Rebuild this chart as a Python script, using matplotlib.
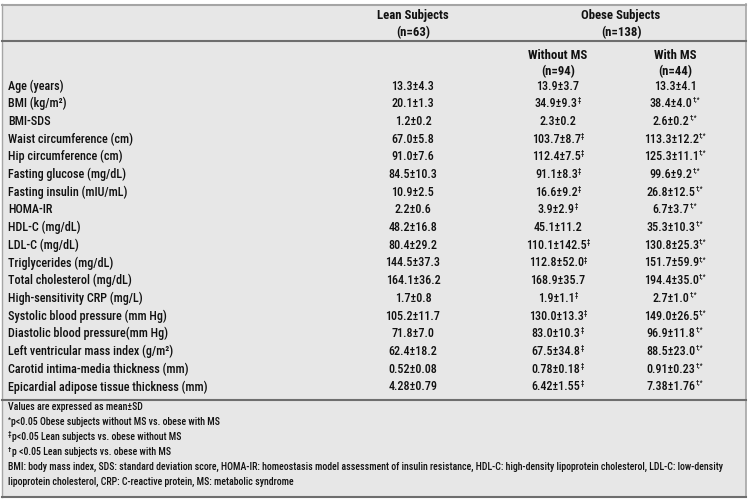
import matplotlib
matplotlib.use("Agg")
import matplotlib.pyplot as plt
from matplotlib import font_manager as fm

# ---------------- data ----------------
variables = [
    "Age (years)", "BMI (kg/m²)", "BMI-SDS", "Waist circumference (cm)",
    "Hip circumference (cm)", "Fasting glucose (mg/dL)", "Fasting insulin (mIU/mL)",
    "HOMA-IR", "HDL-C (mg/dL)", "LDL-C (mg/dL)", "Triglycerides (mg/dL)",
    "Total cholesterol (mg/dL)", "High-sensitivity CRP (mg/L)",
    "Systolic blood pressure (mm Hg)", "Diastolic blood pressure(mm Hg)",
    "Left ventricular mass index (g/m²)", "Carotid intima-media thickness (mm)",
    "Epicardial adipose tissue thickness (mm)",
]
lean = ["13.3±4.3", "20.1±1.3", "1.2±0.2", "67.0±5.8", "91.0±7.6", "84.5±10.3",
        "10.9±2.5", "2.2±0.6", "48.2±16.8", "80.4±29.2", "144.5±37.3", "164.1±36.2",
        "1.7±0.8", "105.2±11.7", "71.8±7.0", "62.4±18.2", "0.52±0.08", "4.28±0.79"]
without_ms = ["13.9±3.7", "34.9±9.3", "2.3±0.2", "103.7±8.7", "112.4±7.5", "91.1±8.3",
              "16.6±9.2", "3.9±2.9", "45.1±11.2", "110.1±142.5", "112.8±52.0",
              "168.9±35.7", "1.9±1.1", "130.0±13.3", "83.0±10.3", "67.5±34.8",
              "0.78±0.18", "6.42±1.55"]
without_ms_sig = ["", "‡", "", "‡", "‡", "‡", "‡", "‡", "", "‡", "‡", "", "‡", "‡",
                  "‡", "‡", "‡", "‡"]
with_ms = ["13.3±4.1", "38.4±4.0", "2.6±0.2", "113.3±12.2", "125.3±11.1", "99.6±9.2",
           "26.8±12.5", "6.7±3.7", "35.3±10.3", "130.8±25.3", "151.7±59.9",
           "194.4±35.0", "2.7±1.0", "149.0±26.5", "96.9±11.8", "88.5±23.0",
           "0.91±0.23", "7.38±1.76"]
with_ms_sig = [""] + ["†,*"] * 17

header_top = [("Lean Subjects", "(n=63)"), ("Obese Subjects", "(n=138)")]
header_sub = [("Without MS", "(n=94)"), ("With MS", "(n=44)")]

footnotes = [
    ("", "Values are expressed as mean±SD"),
    ("*", "p<0.05 Obese subjects without MS vs. obese with MS"),
    ("‡", "p<0.05 Lean subjects vs. obese without MS"),
    ("†", "p <0.05 Lean subjects vs. obese with MS"),
    ("", "BMI: body mass index, SDS: standard deviation score, HOMA-IR: homeostasis model "
         "assessment of insulin resistance, HDL-C: high-density lipoprotein cholesterol, LDL-C: low-density"),
    ("", "lipoprotein cholesterol, CRP: C-reactive protein, MS: metabolic syndrome"),
]

# ---------------- style ----------------
names = {f.name for f in fm.fontManager.ttflist}
fams = [f for f in ["Roboto Condensed", "PT Sans Narrow", "Liberation Sans Narrow"] if f in names]
plt.rcParams["font.family"] = fams + ["DejaVu Sans"]

W, H = 750, 499
fig = plt.figure(figsize=(W / 100, H / 100), dpi=100)
ax = fig.add_axes([0, 0, 1, 1])
ax.set_xlim(0, W)
ax.set_ylim(H, 0)
ax.axis("off")

BG = "#e7e7e7"
ax.add_patch(plt.Rectangle((2, 4), 744, 493, facecolor=BG, edgecolor="none"))
ax.plot([2, 746], [5, 5], color="#a5a5a5", lw=1.5)
ax.plot([2, 2], [4, 497], color="#a5a5a5", lw=1.0)
ax.plot([746, 746], [4, 497], color="#a5a5a5", lw=1.2)
ax.plot([2, 746], [41, 41], color="#6e6e6e", lw=1.5)
ax.plot([2, 746], [400, 400], color="#6e6e6e", lw=1.5)
ax.plot([2, 746], [497, 497], color="#6e6e6e", lw=1.5)

fig.canvas.draw()
renderer = fig.canvas.get_renderer()
WT = 500  # body weight

def width_px(s, fs, weight=WT):
    t = ax.text(0, 0, s, fontsize=fs, fontweight=weight)
    w = t.get_window_extent(renderer).width
    t.remove()
    return w

# fit font sizes to the reference text widths
FS = 10 * 197 / width_px(variables[-1], 10)
FSB = 10 * 72 / width_px(header_top[0][0], 10, "bold")
FS_FN = 8 * 720 / width_px(footnotes[4][1], 8)
FS_SUP = FS * 0.55
TXT = "#111111"
col_x = [413, 558, 675]
label_x = 8
row0, dy = 86, 17.7

# headers
for (h1, h2), cx in zip(header_top, [413, 621]):
    ax.text(cx, 15, h1, ha="center", va="center", fontsize=FSB, fontweight="bold", color=TXT)
    ax.text(cx, 33, h2, ha="center", va="center", fontsize=FSB, fontweight="bold", color=TXT)
for (h1, h2), cx in zip(header_sub, col_x[1:]):
    ax.text(cx, 55, h1, ha="center", va="center", fontsize=FSB, fontweight="bold", color=TXT)
    ax.text(cx, 72, h2, ha="center", va="center", fontsize=FSB, fontweight="bold", color=TXT)

def value_with_sup(cx, y, main, sup):
    wm = width_px(main, FS)
    ws = width_px(sup, FS_SUP) if sup else 0
    x0 = cx - (wm + ws) / 2
    ax.text(x0, y, main, ha="left", va="center", fontsize=FS, fontweight=WT, color=TXT)
    if sup:
        ax.text(x0 + wm + 0.3, y - 3.5, sup, ha="left", va="center", fontsize=FS_SUP,
                fontweight=WT, color=TXT)

for i, var in enumerate(variables):
    y = row0 + i * dy
    ax.text(label_x, y, var, ha="left", va="center", fontsize=FS, fontweight=WT, color=TXT)
    value_with_sup(col_x[0], y, lean[i], "")
    value_with_sup(col_x[1], y, without_ms[i], without_ms_sig[i])
    value_with_sup(col_x[2], y, with_ms[i], with_ms_sig[i])

for j, (mark, txt) in enumerate(footnotes):
    y = 407 + 15 * j
    x = label_x
    if mark:
        ax.text(x, y - 2.5, mark, ha="left", va="center", fontsize=FS_FN * 0.7, fontweight=WT, color=TXT)
        x += width_px(mark, FS_FN * 0.7) + 0.3
    ax.text(x, y, txt, ha="left", va="center", fontsize=FS_FN, fontweight=WT, color=TXT)

fig.savefig("out.png", dpi=100, facecolor="white")
